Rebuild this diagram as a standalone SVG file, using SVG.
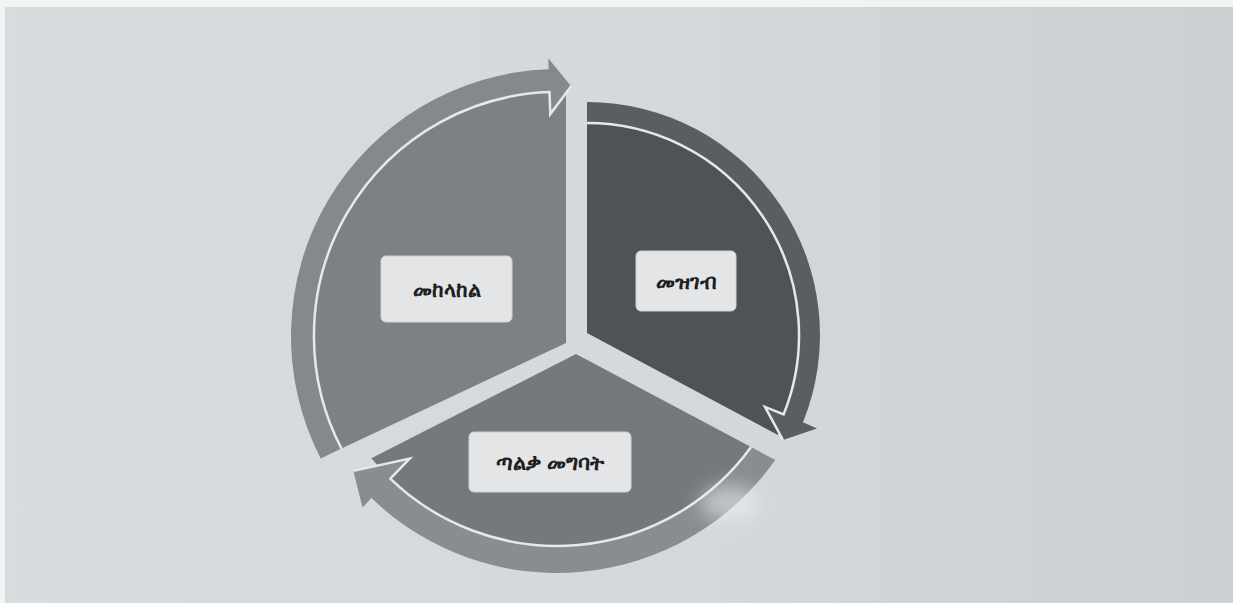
<svg xmlns="http://www.w3.org/2000/svg" width="1233" height="603" viewBox="0 0 1233 603">
<defs>
<linearGradient id="bg" x1="0" y1="0" x2="1" y2="0">
<stop offset="0" stop-color="#d8dcde"/>
<stop offset="0.5" stop-color="#d5d9db"/>
<stop offset="1" stop-color="#ccd0d3"/>
</linearGradient>
<filter id="blur" x="-50%" y="-50%" width="200%" height="200%"><feGaussianBlur stdDeviation="9"/></filter>
<style>
.box{fill:#e3e5e6;stroke:#d0d3d5;stroke-width:1}
.lbl{font-family:"Noto Sans","DejaVu Sans",sans-serif;font-size:21px;font-weight:bold;fill:#1e2022;text-anchor:middle}
.sep{fill:none;stroke:#e6e9ea;stroke-width:2.5;stroke-linejoin:miter}
</style>
</defs>
<rect x="0" y="0" width="1233" height="603" fill="#f2f4f4"/>
<rect x="5" y="7" width="1228" height="596" fill="url(#bg)"/>

<g id="node-mekelakel">
<path d="M566,343 L341.5,448.6 A244,244 0 0 1 549.5,92.1 L566,92 Z" fill="#7d8085"/>
<rect class="box" x="381" y="256" width="131" height="66" rx="5"/>
<text class="lbl" x="446.5" y="297">መከላከል</text>
</g>

<g id="node-mezgeb">
<path d="M587,333 L587,123 A212,212 0 0 1 783.6,414.4 L778,435 Z" fill="#4f5358"/>
<rect class="box" x="636" y="251" width="100" height="60" rx="5"/>
<text class="lbl" x="686" y="289">መዝገብ</text>
</g>

<g id="node-talka-megbat">
<path d="M576,354 L751.1,447.1 A240,240 0 0 1 371.4,458.2 Z" fill="#75797d"/>
<rect class="box" x="469" y="432" width="162" height="60" rx="5"/>
<text class="lbl" x="550" y="470">ጣልቃ መግባት</text>
</g>

<g id="connectors">
<path d="M320.7,458.4 A267,267 0 0 1 548.7,69.2 L548.3,58.2 L571.1,86.3 L550.3,114.1 L549.5,92.1 A244,244 0 0 0 341.5,448.6 Z" fill="#85888c"/>
<path d="M587,102 A233,233 0 0 1 803,422.3 L817,428.5 L783,440 L765,406.9 L783.6,414.4 A212,212 0 0 0 587,123 Z" fill="#5a5e63"/>
<path d="M775.2,459.9 A267,267 0 0 1 371.5,498.1 L362.5,507.4 L353.4,470.9 L409.7,458.5 L390.3,478.6 A240,240 0 0 0 751.1,447.1 Z" fill="#898c90"/>
<path class="sep" d="M341.5,448.6 A244,244 0 0 1 549.5,92.1 L550.3,114.1 L571.1,86.3"/>
<path class="sep" d="M587,123 A212,212 0 0 1 783.6,414.4 L765,406.9 L783,440"/>
<path class="sep" d="M751.1,447.1 A240,240 0 0 1 390.3,478.6 L409.7,458.5 L353.4,470.9"/>
</g>
<ellipse cx="730" cy="503" rx="30" ry="18" fill="#eef0f1" opacity="0.55" filter="url(#blur)"/>
</svg>
